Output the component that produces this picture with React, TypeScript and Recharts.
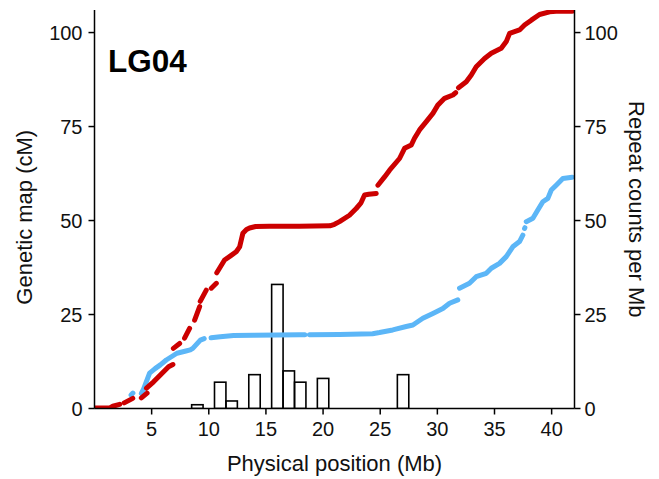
import React from "react";
import { ComposedChart, Bar, Line, XAxis, YAxis, Label } from "recharts";

// ---- data ----
const X_TICKS = [5, 10, 15, 20, 25, 30, 35, 40];
const Y_TICKS = [0, 25, 50, 75, 100];

// repeat-count histogram (1 Mb bins, centre position in Mb)
const BIN_CENTERS = [9, 11, 12, 14, 16, 17, 18, 20, 27];
const REPEAT_COUNTS = [1, 7, 2, 9, 33, 10, 7, 8, 9];

// genetic map markers [Mb, cM]; null marks a visible gap
const RED_MAP: (number[] | null)[] = [
  [0, 0.1], [1.3, 0.1], [1.6, 0.6], [2.2, 1.1], null,
  [2.6, 1.5], [3.35, 2.7], null,
  [4.1, 2.8], [4.6, 4.1], null,
  [4.55, 5.4], [5.17, 7.1], [5.76, 8.9], [6.48, 11.1], [6.86, 11.7], null,
  [6.9, 16.0], [7.45, 17.3], null,
  [7.88, 18.7], [8.32, 21.3], null,
  [8.76, 23.5], [9.2, 27.1], null,
  [9.25, 28.5], [9.78, 31.5], null,
  [10.22, 32.0], [10.66, 33.3], null,
  [10.7, 36.1], [11.38, 39.5], [11.9, 40.6], [12.4, 41.7], [12.7, 43.0], [12.98, 46.6],
  [13.3, 47.6], [13.57, 48.0], [14.1, 48.4], [15.3, 48.5], [17.9, 48.5], [20.6, 48.6],
  [21.0, 49.0], [21.44, 49.7], [22.31, 51.4], [22.9, 53.2], [23.3, 54.6], [23.63, 56.8],
  [24.0, 57.0], [24.65, 57.2], null,
  [24.8, 59.4], [25.38, 61.6], [25.82, 63.4], [26.69, 66.5], [27.13, 69.2], [27.72, 70.1],
  [28.0, 71.9], [28.44, 74.1], [29.03, 76.3], [29.61, 78.5], [30.04, 80.7], [30.63, 82.5],
  [31.36, 83.4], [31.6, 84.0], null,
  [31.85, 85.3], [32.53, 86.9], [32.97, 88.7], [33.4, 90.9], [34.13, 93.1], [34.72, 94.5],
  [35.59, 95.8], [36.03, 97.6], [36.32, 99.8], [37.19, 100.7], [37.63, 102.0], [38.22, 103.3],
  [38.94, 104.8], [39.82, 105.5], [40.69, 105.7], [41.8, 105.7],
];

const BLUE_MAP: (number[] | null)[] = [
  [3.2, 3.6], [3.36, 4.1], null,
  [4.1, 4.0], [4.3, 5.2], [4.82, 9.4], [5.3, 10.6], [5.76, 11.6], [6.28, 12.9], [7.21, 14.7],
  [8.0, 15.3], [8.38, 15.6], [8.6, 16.0], [9.26, 18.2], [9.6, 18.6], null,
  [10.2, 18.8], [11.0, 19.1], [12.17, 19.4], [13.92, 19.5], [17.94, 19.6], [18.4, 19.6], null,
  [18.8, 19.6], [21.44, 19.7], [24.33, 19.9], [24.94, 20.2], [26.1, 20.9], [27.28, 21.8],
  [27.86, 22.2], [28.73, 24.0], [29.61, 25.3], [30.48, 26.6], [31.07, 28.0], [31.79, 28.9], null,
  [31.94, 32.0], [32.81, 33.3], [33.4, 35.05], [34.28, 35.96], [34.72, 37.3], [35.44, 38.6],
  [36.03, 40.4], [36.6, 43.0], [37.19, 44.4], [37.48, 46.1], null,
  [37.63, 47.9], [37.66, 48.1], null,
  [37.78, 49.7], [38.36, 50.6], [38.79, 52.8], [39.23, 55.0], [39.67, 55.9], [39.97, 58.1],
  [40.4, 59.4], [40.98, 61.2], [41.8, 61.5],
];

// ---- layout / style ----
const W = 659;
const H = 479;
const LEFT_W = 94.5;
const RIGHT_W = 84.5;
const TOP = 10;
const XAXIS_H = 70.5;
const X_DOMAIN: [number, number] = [0, 42];
const Y_DOMAIN: [number, number] = [0, 106];
const PLOT_W = W - LEFT_W - RIGHT_W;
const BIN_WIDTH_MB = 1;
const FONT = "'Liberation Sans', Arial, Helvetica, sans-serif";
const RED = "#CC0000";
const BLUE = "#5CB6F7";

const toSeries = (pts: (number[] | null)[]) => {
  const out: { x: number; y: number | null }[] = [];
  let lastX = 0;
  pts.forEach((p) => {
    if (p === null) out.push({ x: lastX, y: null });
    else {
      lastX = p[0];
      out.push({ x: p[0], y: p[1] });
    }
  });
  return out;
};

const barData = BIN_CENTERS.map((x, i) => ({ x, count: REPEAT_COUNTS[i] }));
const redData = toSeries(RED_MAP);
const blueData = toSeries(BLUE_MAP);

const tickStyle = { fill: "#111", fontSize: 20, fontFamily: FONT };
const lineStyle = { stroke: "#000", strokeWidth: 1.5 };

const BIN_PX = (PLOT_W / (X_DOMAIN[1] - X_DOMAIN[0])) * BIN_WIDTH_MB;

// draw a 1 Mb wide open box centred on the bar's x position
const BinShape = (props: any) => {
  const { x, y, width, height } = props;
  if (x == null || y == null || !height) return <g />;
  const cx = x + (width || 0) / 2;
  return (
    <rect
      x={cx - BIN_PX / 2}
      y={y}
      width={BIN_PX}
      height={height}
      fill="none"
      stroke="#000"
      strokeWidth={1.6}
    />
  );
};

export default function App() {
  const plotMidY = TOP + (H - TOP - XAXIS_H) / 2;
  return (
    <div style={{ position: "absolute", left: 0, top: 0, width: W, height: H, background: "#fff" }}>
      <ComposedChart
        width={W}
        height={H}
        data={barData}
        margin={{ top: TOP, right: 0, bottom: 0, left: 0 }}
      >
        <XAxis
          dataKey="x"
          type="number"
          domain={X_DOMAIN}
          allowDataOverflow
          ticks={X_TICKS}
          height={XAXIS_H}
          tick={tickStyle}
          tickSize={6}
          tickMargin={7}
          axisLine={lineStyle}
          tickLine={lineStyle}
        >
          <Label
            content={() => (
              <text x={LEFT_W + PLOT_W / 2} y={471} textAnchor="middle" fontSize={22} fontFamily={FONT} fill="#111">
                Physical position (Mb)
              </text>
            )}
          />
        </XAxis>
        <YAxis
          yAxisId="left"
          type="number"
          domain={Y_DOMAIN}
          ticks={Y_TICKS}
          width={LEFT_W}
          tick={tickStyle}
          tickSize={6}
          tickMargin={6}
          axisLine={lineStyle}
          tickLine={lineStyle}
          allowDataOverflow
        >
          <Label
            content={() => (
              <g>
                <text
                  x={32}
                  y={plotMidY + 8}
                  transform={`rotate(-90 32 ${plotMidY + 8})`}
                  textAnchor="middle"
                  fontSize={22}
                  fontFamily={FONT}
                  fill="#111"
                >
                  Genetic map (cM)
                </text>
                <text x={108} y={72} fontSize={31.5} fontWeight="bold" fontFamily={FONT} fill="#000">
                  LG04
                </text>
              </g>
            )}
          />
        </YAxis>
        <YAxis
          yAxisId="right"
          orientation="right"
          type="number"
          domain={Y_DOMAIN}
          ticks={Y_TICKS}
          width={RIGHT_W}
          tick={tickStyle}
          tickSize={6}
          tickMargin={4}
          axisLine={lineStyle}
          tickLine={lineStyle}
          allowDataOverflow
        >
          <Label
            content={() => (
              <text
                x={629}
                y={plotMidY}
                transform={`rotate(90 629 ${plotMidY})`}
                textAnchor="middle"
                fontSize={22}
                fontFamily={FONT}
                fill="#111"
              >
                Repeat counts per Mb
              </text>
            )}
          />
        </YAxis>
        <Bar
          yAxisId="right"
          dataKey="count"
          shape={BinShape}
          isAnimationActive={false}
        />
        <Line
          yAxisId="left"
          data={blueData}
          dataKey="y"
          type="linear"
          stroke={BLUE}
          strokeWidth={5}
          strokeLinecap="round"
          strokeLinejoin="round"
          dot={false}
          activeDot={false}
          connectNulls={false}
          isAnimationActive={false}
        />
        <Line
          yAxisId="left"
          data={redData}
          dataKey="y"
          type="linear"
          stroke={RED}
          strokeWidth={5}
          strokeLinecap="round"
          strokeLinejoin="round"
          dot={false}
          activeDot={false}
          connectNulls={false}
          isAnimationActive={false}
        />
      </ComposedChart>
    </div>
  );
}
